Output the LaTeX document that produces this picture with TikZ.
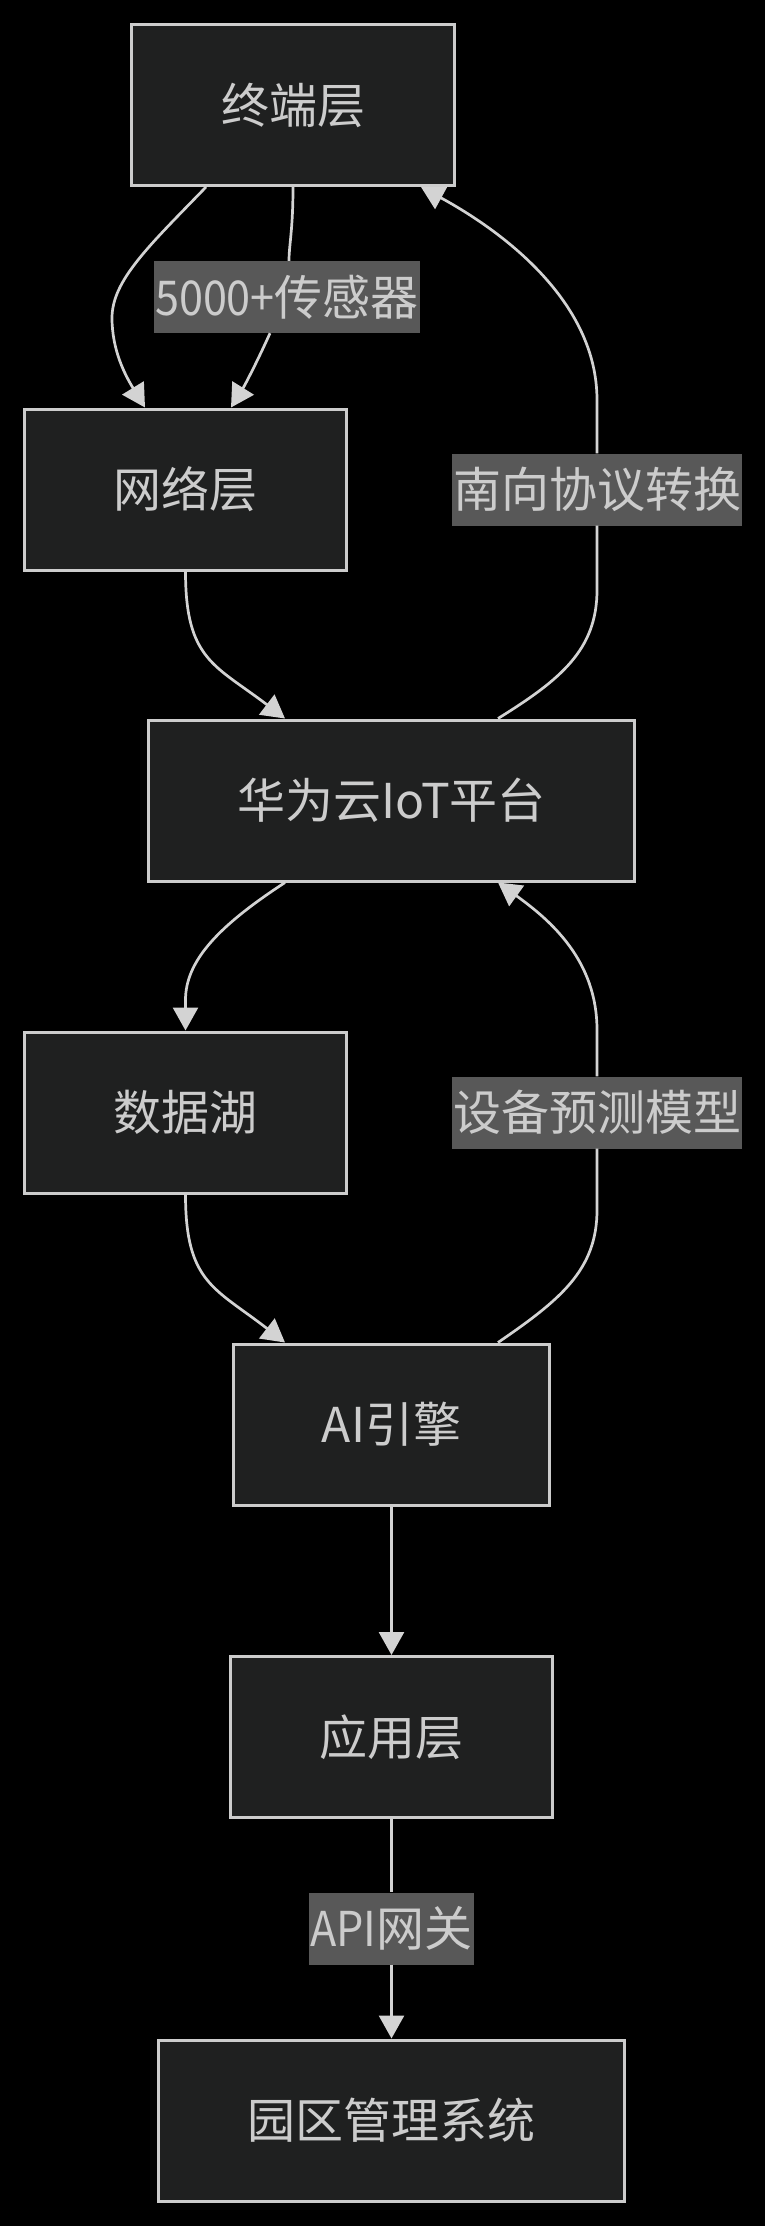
\documentclass[tikz,border=0pt]{standalone}
\usepackage{graphicx}
\usepackage{fontspec}
\setmainfont{Noto Sans CJK SC}
\usetikzlibrary{arrows.meta}
\definecolor{nodefill}{HTML}{1F2020}
\definecolor{nodeline}{HTML}{CCCCCC}
\definecolor{edgeline}{HTML}{D3D3D3}
\definecolor{labelfill}{HTML}{585858}
\definecolor{textgray}{HTML}{CCCCCC}
\newcommand{\narrowlatin}[1]{\scalebox{0.9}[1]{#1}}
\begin{document}
\begin{tikzpicture}[x=1pt,y=-1pt,
  layer/.style={draw=nodeline,fill=nodefill,line width=3pt,text=textgray,
    minimum height=161pt,inner sep=0pt,font=\fontsize{48pt}{72pt}\selectfont},
  edgelabel/.style={fill=labelfill,text=textgray,minimum height=72pt,
    inner xsep=1pt,inner ysep=0pt,font=\fontsize{48pt}{72pt}\selectfont},
  flow/.style={draw=edgeline,line width=2.7pt},
  arrowed/.style={-{Triangle[length=23pt,width=25pt]}}]

   \useasboundingbox (0,0) rectangle (765,2226);
   \fill[black] (0,0) rectangle (765,2226);

   \node[layer,minimum width=323pt] (term)  at (293,105)    {终端层};
   \node[layer,minimum width=322pt] (net)   at (185.5,489.5) {网络层};
   \node[layer,minimum width=486pt] (cloud) at (391.5,800.5) {华为云IoT平台};
   \node[layer,minimum width=322pt] (data)  at (185.5,1112.5) {数据湖};
   \node[layer,minimum width=316pt] (ai)    at (391.5,1424.5) {AI引擎};
   \node[layer,minimum width=322pt] (app)   at (391.5,1737)  {应用层};
   \node[layer,minimum width=466pt] (park)  at (391.5,2120.5) {园区管理系统};

   \node[edgelabel] (sensorlbl) at (287,297)    {\narrowlatin{5000+}传感器};
   \node[edgelabel] (southlbl)  at (597,489.5)  {南向协议转换};
   \node[edgelabel] (modellbl)  at (597,1112.5) {设备预测模型};
   \node[edgelabel] (apilbl)    at (391.5,1928.5) {\narrowlatin{API}网关};

   \draw[flow,arrowed] ([xshift=-87pt]term.south) .. controls (150,245) and (112,280) .. (112,318)
     .. controls (112,350) and (125,375) .. ([xshift=-40.5pt]net.north);
   \draw[flow] (term.south) .. controls (293,230) and (289,245) .. ([xshift=2pt]sensorlbl.north);
   \draw[flow,arrowed] ([xshift=-17pt]sensorlbl.south) .. controls (258,360) and (245,385) .. ([xshift=45.5pt]net.north);

   \draw[flow,arrowed] (net.south) .. controls (185.5,660) and (215,665) .. ([xshift=-106.5pt]cloud.north);
   \draw[flow] ([xshift=106.5pt]cloud.north) .. controls (560,680) and (597,650) .. (597,590) -- (southlbl.south);
   \draw[flow,arrowed] (southlbl.north) -- (597,400) .. controls (597,300) and (500,230) .. ([xshift=128pt]term.south);

   \draw[flow,arrowed] ([xshift=-106.5pt]cloud.south) .. controls (220,925) and (185.5,960) .. (185.5,1000) -- (data.north);
   \draw[flow,arrowed] (data.south) .. controls (185.5,1283) and (215,1288) .. ([xshift=-106.5pt]ai.north);
   \draw[flow] ([xshift=106.5pt]ai.north) .. controls (560,1300) and (597,1270) .. (597,1210) -- (modellbl.south);
   \draw[flow,arrowed] (modellbl.north) -- (597,1030) .. controls (597,960) and (550,920) .. ([xshift=106.5pt]cloud.south);

   \draw[flow,arrowed] (ai.south) -- (app.north);
   \draw[flow] (app.south) -- (apilbl.north);
   \draw[flow,arrowed] (apilbl.south) -- (park.north);

\end{tikzpicture}
\end{document}
